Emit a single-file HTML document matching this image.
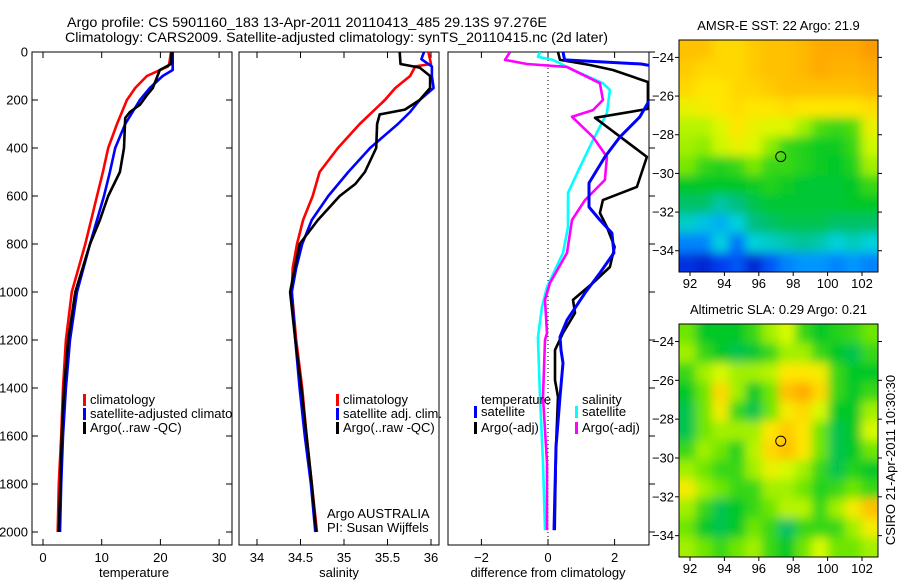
<!DOCTYPE html>
<html><head><meta charset="utf-8">
<style>
html,body{margin:0;padding:0;background:#fff;}
svg{display:block;font-family:"Liberation Sans",sans-serif;}
</style></head>
<body>
<svg id="fig" width="900" height="580" viewBox="0 0 900 580" xmlns="http://www.w3.org/2000/svg">
<rect width="900" height="580" fill="#fff"/>
<text x="67" y="27" font-size="14" textLength="480" lengthAdjust="spacingAndGlyphs">Argo profile: CS 5901160_183 13-Apr-2011 20110413_485 29.13S 97.276E</text>
<text x="65" y="42" font-size="14" textLength="543" lengthAdjust="spacingAndGlyphs">Climatology: CARS2009. Satellite-adjusted climatology: synTS_20110415.nc (2d later)</text>
<g id="root"></g>
</svg>
<script>
// ---------- profile data ----------
const tClimDepth=[0,50,60,100,150,200,300,400,500,600,800,1000,1200,1400,1600,1800,2000];
const tClimVal=[21.8,21.5,21.3,17.7,15.7,14.3,12.6,11.1,10.2,9.2,7.2,4.9,3.9,3.4,3.1,2.7,2.5];
const tSatDepth=[0,75,100,150,200,300,400,500,600,800,1000,1200,1400,1600,1800,2000];
const tSatVal=[22.1,22.1,20.4,18.2,16.5,14.0,12.3,11.4,10.4,8.0,5.8,4.6,3.9,3.4,3.1,2.9];
const tArgoDepth=[0,50,75,150,180,220,250,275,400,500,600,700,800,1000,1200,1400,1600,2000];
const tArgoVal=[21.9,21.8,19.9,18.7,17.7,16.5,14.8,14.0,13.8,13.1,11.1,9.7,8.0,5.5,4.3,3.6,3.2,2.7];

const sClimDepth=[0,50,60,100,150,200,300,400,500,600,700,800,900,1000,1200,1400,1600,1800,2000];
const sClimVal=[35.97,36.0,35.82,35.76,35.59,35.47,35.18,34.93,34.72,34.64,34.53,34.46,34.41,34.40,34.45,34.52,34.57,34.63,34.69];
const sSatDepth=[0,30,60,100,150,200,250,300,400,500,600,700,800,900,1000,1200,1400,1600,1800,2000];
const sSatVal=[35.92,35.89,36.01,36.01,36.03,35.87,35.76,35.62,35.30,35.05,34.82,34.63,34.52,34.45,34.40,34.44,34.49,34.55,34.62,34.67];
const sArgoDepth=[0,50,65,100,150,200,240,260,300,400,500,550,600,700,800,1000,1200,1400,1600,1800,2000];
const sArgoVal=[35.64,35.65,35.87,35.99,35.99,35.87,35.70,35.41,35.38,35.37,35.24,35.13,34.95,34.70,34.49,34.38,34.44,34.51,34.57,34.63,34.68];

const dTSatDepth=[0,33,50,67,150,212,270,354,437,546,646,700,754,837,921,1004,1117,1187,1242,1296,1437,1646,1992];
const dTSatVal=[0.45,0.5,2.8,3.5,3.5,3.0,2.76,2.16,1.71,1.23,1.23,1.56,1.92,1.98,1.56,1.11,0.57,0.36,0.39,0.45,0.36,0.24,0.18];
const dTArgoDepth=[0,33,54,75,125,167,237,274,437,562,617,671,729,812,896,962,1033,1087,1171,1242,1367,1437,1646,1992];
const dTArgoVal=[0.3,0.36,1.26,1.95,3.0,3.0,3.0,1.41,2.97,2.67,1.65,1.56,1.77,2.0,1.86,1.35,0.75,0.81,0.45,0.21,0.21,0.3,0.24,0.2];
const dSSatDepth=[0,20,33,75,130,158,254,367,479,587,729,837,979,1062,1187,1200,1437,1712,1992];
const dSSatVal=[-0.24,-0.3,0.15,0.75,1.65,1.86,1.77,1.35,0.96,0.6,0.6,0.45,-0.03,-0.18,-0.3,-0.3,-0.24,-0.15,-0.09];
const dSArgoDepth=[0,33,50,62,130,200,242,270,354,437,533,617,700,837,962,1033,1171,1200,1437,1712,1992];
const dSArgoVal=[-1.14,-1.29,-0.63,0.57,1.56,1.65,1.35,0.72,1.35,1.77,1.71,1.11,0.72,0.57,0.06,-0.09,-0.03,-0.09,-0.15,-0.03,-0.03];

const depthTicks=[0,200,400,600,800,1000,1200,1400,1600,1800,2000];
const tempTicks=[0,10,20,30];
const salTicks=[34,34.5,35,35.5,36];
const salTickLabels=["34","34.5","35","35.5","36"];
const diffTicks=[-2,0,2];
const lonTicks=[92,94,96,98,100,102];
const latTicks=[-24,-26,-28,-30,-32,-34];

// ---------- map data (colour index 0..1) ----------
const sstGrid=[
[0.8,0.8,0.75,0.75,0.78,0.8,0.8,0.82,0.85,0.85,0.85,0.88],
[0.78,0.75,0.75,0.75,0.78,0.8,0.8,0.82,0.85,0.83,0.83,0.85],
[0.75,0.72,0.72,0.75,0.76,0.78,0.8,0.8,0.8,0.8,0.8,0.82],
[0.68,0.7,0.72,0.74,0.72,0.72,0.74,0.72,0.72,0.72,0.72,0.74],
[0.62,0.62,0.66,0.72,0.68,0.66,0.66,0.6,0.52,0.5,0.52,0.68],
[0.6,0.58,0.64,0.68,0.66,0.58,0.5,0.48,0.46,0.46,0.5,0.64],
[0.56,0.5,0.48,0.5,0.56,0.5,0.5,0.48,0.46,0.45,0.48,0.6],
[0.45,0.45,0.45,0.45,0.46,0.48,0.46,0.44,0.44,0.44,0.45,0.5],
[0.4,0.4,0.35,0.38,0.42,0.44,0.44,0.44,0.44,0.44,0.45,0.45],
[0.32,0.28,0.25,0.3,0.38,0.4,0.42,0.42,0.42,0.4,0.4,0.4],
[0.2,0.2,0.3,0.18,0.3,0.32,0.34,0.36,0.34,0.3,0.33,0.3],
[0.1,0.08,0.12,0.15,0.08,0.15,0.2,0.22,0.22,0.2,0.22,0.2]];
const slaGrid=[
[0.55,0.45,0.45,0.45,0.5,0.6,0.65,0.5,0.45,0.48,0.5,0.55],
[0.6,0.5,0.45,0.42,0.44,0.5,0.6,0.6,0.5,0.45,0.42,0.5],
[0.5,0.6,0.65,0.6,0.6,0.62,0.72,0.72,0.7,0.5,0.45,0.45],
[0.45,0.55,0.75,0.6,0.45,0.55,0.8,0.85,0.75,0.5,0.45,0.5],
[0.42,0.55,0.7,0.5,0.42,0.55,0.7,0.75,0.65,0.45,0.45,0.6],
[0.42,0.55,0.6,0.6,0.6,0.72,0.78,0.72,0.55,0.42,0.45,0.65],
[0.5,0.6,0.55,0.48,0.62,0.75,0.8,0.72,0.55,0.42,0.45,0.55],
[0.6,0.55,0.5,0.5,0.6,0.68,0.65,0.6,0.5,0.42,0.48,0.45],
[0.7,0.6,0.55,0.5,0.5,0.6,0.6,0.55,0.48,0.5,0.55,0.5],
[0.6,0.5,0.42,0.45,0.5,0.55,0.62,0.62,0.5,0.6,0.7,0.8],
[0.55,0.45,0.42,0.45,0.55,0.5,0.4,0.5,0.5,0.5,0.6,0.7],
[0.6,0.55,0.5,0.55,0.6,0.5,0.45,0.55,0.65,0.55,0.55,0.6]];
const argoLon=97.276, argoLat=-29.13;

const NS="http://www.w3.org/2000/svg";
const root=document.getElementById('root');
function mk(tag,attrs,parent){const e=document.createElementNS(NS,tag);for(const k in attrs)e.setAttribute(k,attrs[k]);(parent||root).appendChild(e);return e;}
function txt(s,attrs,parent){const e=mk('text',attrs,parent);e.textContent=s;return e;}

// depth axis shared
const depthY=d=>52+d*0.24;
const panels=[
 {x0:32,x1:232,fx:v=>43+v*5.87,name:'temperature'},
 {x0:239,x1:439,fx:v=>257+(v-34)*87,name:'salinity'},
 {x0:448,x1:649,fx:v=>548+v*33.3,name:'difference'}];
const Y0=52,Y1=545;

defs=mk('defs',{});
panels.forEach((p,i)=>{const c=mk('clipPath',{id:'pc'+i},defs);mk('rect',{x:p.x0,y:Y0,width:p.x1-p.x0,height:Y1-Y0},c);});

function line(px,depths,vals,color,name,w){
  const p=panels[px];
  const pts=depths.map((d,i)=>p.fx(vals[i]).toFixed(1)+','+depthY(d).toFixed(1)).join(' ');
  const e=mk('polyline',{points:pts,fill:'none',stroke:color,'stroke-width':w||2.6,'stroke-linejoin':'round','clip-path':'url(#pc'+px+')'});
  
  
}

// frames + ticks
panels.forEach((p,i)=>{
  const f=mk('rect',{x:p.x0,y:Y0,width:p.x1-p.x0,height:Y1-Y0,fill:'none',stroke:'#000','stroke-width':1});
  
  
});
// depth ticks/labels panel1
depthTicks.forEach(d=>{
  const y=depthY(d);
  mk('line',{x1:32,x2:38,y1:y,y2:y,stroke:'#000'});
  mk('line',{x1:226,x2:232,y1:y,y2:y,stroke:'#000'});
  mk('line',{x1:649,x2:655,y1:y,y2:y,stroke:'#000'});
  const t=txt(String(d),{x:28,y:y+4.5,'font-size':13,'text-anchor':'end'});
  
  
});
function xticks(pi,ticks,labels){
  const p=panels[pi];
  ticks.forEach((v,i)=>{const x=p.fx(v);
    mk('line',{x1:x,x2:x,y1:Y1,y2:Y1-6,stroke:'#000'});
    mk('line',{x1:x,x2:x,y1:Y0,y2:Y0+6,stroke:'#000'});
    const t=txt(labels?labels[i]:String(v).replace('-','\u2212'),{x:x,y:562,'font-size':13,'text-anchor':'middle'});
    
    
  });
}
xticks(0,tempTicks);xticks(1,salTicks,salTickLabels);xticks(2,diffTicks);
[['temperature',134,'temperature-axis-title'],['salinity',339,'salinity-axis-title'],['difference from climatology',548,'difference-axis-title']].forEach(a=>{
  const t=txt(a[0],{x:a[1],y:577,'font-size':13,'text-anchor':'middle'});
  
  
});
// zero line
const zl=mk('line',{x1:panels[2].fx(0),x2:panels[2].fx(0),y1:Y0,y2:Y1,stroke:'#000','stroke-dasharray':'1,3'});



// series
line(0,tClimDepth,tClimVal,'#f00','temperature-climatology-line');
line(0,tSatDepth,tSatVal,'#00f','temperature-satellite-line');
line(0,tArgoDepth,tArgoVal,'#000','temperature-argo-line');
line(1,sClimDepth,sClimVal,'#f00','salinity-climatology-line');
line(1,sSatDepth,sSatVal,'#00f','salinity-satellite-line');
line(1,sArgoDepth,sArgoVal,'#000','salinity-argo-line');
line(2,dSSatDepth,dSSatVal,'#0ff','salinity-satellite-diff-line');
line(2,dSArgoDepth,dSArgoVal,'#f0f','salinity-argo-diff-line');
line(2,dTArgoDepth,dTArgoVal,'#000','temperature-argo-diff-line');
line(2,dTSatDepth,dTSatVal,'#00f','temperature-satellite-diff-line',3);

// legends
function legend(x,y,color,label,name,clip){
  const g=mk('g',clip?{'clip-path':clip}:{});
  
  
  if(color) mk('rect',{x:x,y:y-10,width:3,height:12,fill:color},g);
  txt(label,{x:x+7,y:y,'font-size':13},g);
}
legend(83,404,'#f00','climatology','legend-climatology');
legend(83,418,'#00f','satellite-adjusted climatology','legend-satellite-adjusted','url(#pc0)');
legend(83,432,'#000','Argo(..raw -QC)','legend-argo-raw');
legend(336,404,'#f00','climatology','legend-sal-climatology');
legend(336,418,'#00f','satellite adj. clim.','legend-sal-satellite');
legend(336,432,'#000','Argo(..raw -QC)','legend-sal-argo');
legend(474,404,null,'temperature','legend-temperature-header');
legend(474,416,'#00f','satellite','legend-temp-satellite');
legend(474,432,'#000','Argo(-adj)','legend-temp-argo');
legend(575,404,null,'salinity','legend-salinity-header');
legend(575,416,'#0ff','satellite','legend-sal-satellite-diff');
legend(575,432,'#f0f','Argo(-adj)','legend-sal-argo-diff');
const c1=txt('Argo AUSTRALIA',{x:327,y:518,'font-size':13});

const c2=txt('PI: Susan Wijffels',{x:327,y:532,'font-size':13});


// ---------- maps ----------
const stops=[[0,[0,0,150]],[0.12,[0,60,240]],[0.22,[0,150,255]],[0.3,[0,210,220]],[0.38,[0,190,130]],[0.45,[0,200,40]],[0.55,[110,230,0]],[0.65,[215,250,0]],[0.72,[255,230,0]],[0.85,[255,170,0]],[1,[230,100,0]]];
function cmap(v){for(let i=1;i<stops.length;i++){if(v<=stops[i][0]){const a=stops[i-1],b=stops[i],t=(v-a[0])/(b[0]-a[0]);return 'rgb('+a[1].map((c,k)=>Math.round(c+(b[1][k]-c)*t)).join(',')+')';}}return 'rgb(230,100,0)';}
function drawMap(top,bottom,grid,title,name,idx){
  const L=679,R=878,lon0=91.36,lon1=102.93,lat0=-23.1,lat1=-35.1;
  const fx=lo=>L+(lo-lon0)/(lon1-lon0)*(R-L);
  const fy=la=>top+(la-lat0)/(lat1-lat0)*(bottom-top);
  const cp=mk('clipPath',{id:'mc'+idx},defs);mk('rect',{x:L,y:top,width:R-L,height:bottom-top},cp);
  const fl=mk('filter',{id:'mb'+idx,x:'-10%',y:'-10%',width:'120%',height:'120%'},defs);
  mk('feGaussianBlur',{stdDeviation:5},fl);
  const outer=mk('g',{'clip-path':'url(#mc'+idx+')'});
  
  
  const g=mk('g',{filter:'url(#mb'+idx+')'},outer);
  const nr=grid.length,nc=grid[0].length,cw=(R-L)/nc,ch=(bottom-top)/nr;
  grid.forEach((row,r)=>row.forEach((v,c)=>{
    const x=L+c*cw,y=top+r*ch;
    const cell=mk('rect',{x:x-(c==0?15:0),y:y-(r==0?15:0),width:cw+0.5+(c==0||c==nc-1?15:0),height:ch+0.5+(r==0||r==nr-1?15:0),fill:cmap(v)},g);
    
    
  }));
  const fr=mk('rect',{x:L,y:top,width:R-L,height:bottom-top,fill:'none',stroke:'#000'});
  
  const ci=mk('circle',{cx:fx(argoLon),cy:fy(argoLat),r:5,fill:'none',stroke:'#000','stroke-width':1});
  
  lonTicks.forEach(lo=>{const x=fx(lo);mk('line',{x1:x,x2:x,y1:bottom,y2:bottom+4,stroke:'#000'});
    const t=txt(String(lo),{x:x,y:bottom+16,'font-size':13,'text-anchor':'middle'});
    });
  latTicks.forEach(la=>{const y=fy(la);mk('line',{x1:L-4,x2:L,y1:y,y2:y,stroke:'#000'});mk('line',{x1:R,x2:R+4,y1:y,y2:y,stroke:'#000'});
    const t=txt(String(la).replace('-','\u2212'),{x:L-5,y:y+4.5,'font-size':13,'text-anchor':'end'});
    });
  const tt=txt(title,{x:(L+R)/2,y:top-10,'font-size':13,'text-anchor':'middle'});
  
}
drawMap(40,272,sstGrid,'AMSR-E SST: 22 Argo: 21.9','sst-map',0);
drawMap(324,557,slaGrid,'Altimetric SLA: 0.29 Argo: 0.21','sla-map',1);
const st=txt('CSIRO 21-Apr-2011 10:30:30',{x:0,y:0,'font-size':13,'text-anchor':'middle',transform:'translate(895,460) rotate(-90)'});


</script>
</body></html>
